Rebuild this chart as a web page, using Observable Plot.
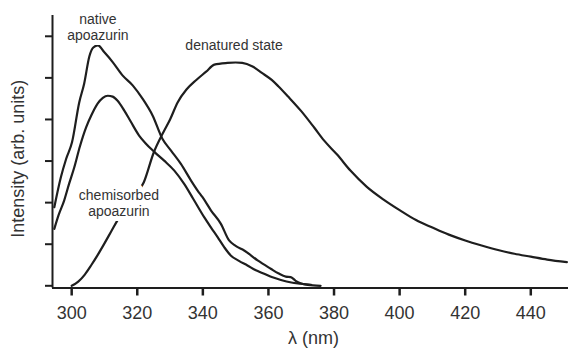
<!DOCTYPE html>
<html><head><meta charset="utf-8">
<script src="https://cdn.jsdelivr.net/npm/d3@7"></script>
<script src="https://cdn.jsdelivr.net/npm/@observablehq/plot@0.6"></script>
<style>body{margin:0;background:#fff;}</style>
</head><body><div id="chart"></div>
<script>
// Native apoazurin
const nativeWl = [294.7, 296.7, 298.3, 300.1, 302.3, 303.8, 305.4, 306.6, 308.0, 309.9, 312.5, 315.5, 318.6, 321.6, 324.7, 327.7, 330.3, 333.3, 336.4, 338.4, 339.9, 342.5, 345.5, 348.0, 350.0, 352.6, 356.7, 360.7, 363.0, 365.3, 366.8, 368.3, 369.8, 372.0, 375.9];
const nativeI = [1.89, 2.61, 3.05, 3.45, 4.41, 4.86, 5.52, 5.73, 5.78, 5.62, 5.38, 5.06, 4.82, 4.50, 4.09, 3.53, 3.25, 2.93, 2.53, 2.29, 2.13, 1.81, 1.49, 1.09, 0.96, 0.85, 0.61, 0.41, 0.30, 0.22, 0.21, 0.12, 0.06, 0.02, 0.0];
// Chemisorbed apoazurin
const chemWl = [294.7, 296.0, 297.7, 299.2, 300.8, 302.5, 304.4, 306.0, 307.9, 309.5, 311.0, 312.5, 314.0, 316.0, 318.0, 320.5, 322.5, 325.2, 328.2, 331.3, 334.3, 337.0, 340.4, 342.5, 344.5, 346.5, 348.5, 351.0, 353.6, 356.0, 358.7, 361.0, 363.8, 367.0, 369.9, 373.0];
const chemI = [1.37, 1.70, 2.05, 2.45, 2.85, 3.35, 3.81, 4.10, 4.38, 4.52, 4.57, 4.55, 4.45, 4.22, 3.95, 3.62, 3.43, 3.22, 3.01, 2.77, 2.45, 2.10, 1.65, 1.40, 1.17, 0.93, 0.73, 0.60, 0.49, 0.38, 0.29, 0.21, 0.14, 0.08, 0.05, 0.02];
// Denatured state
const denWl = [300, 302, 304, 306, 308, 310, 312, 314, 318, 322, 325, 328, 330, 332.3, 335, 338, 341, 343.5, 347.5, 350, 352, 355, 358, 361, 363, 366, 370, 374, 377, 381, 385, 390, 395, 400, 405, 410, 415, 420, 425, 430, 435, 440, 445, 451];
const denI = [0.0, 0.10, 0.27, 0.50, 0.75, 1.02, 1.30, 1.58, 2.05, 2.49, 3.20, 3.70, 4.00, 4.41, 4.72, 4.95, 5.15, 5.32, 5.36, 5.37, 5.36, 5.28, 5.12, 4.95, 4.80, 4.55, 4.20, 3.80, 3.49, 3.15, 2.77, 2.38, 2.08, 1.82, 1.58, 1.40, 1.23, 1.09, 0.97, 0.86, 0.77, 0.70, 0.63, 0.57];

const xTicks = [300, 320, 340, 360, 380, 400, 420, 440];
const yTicks = [0, 1, 2, 3, 4, 5, 6];
const xDomain = [294.15, 451.5];
const yDomain = [-0.053, 6.5];
const xLabel = "λ (nm)";
const yLabel = "Intensity (arb. units)";

const labelText = ["native\napoazurin", "denatured state", "chemisorbed\napoazurin"];
const labelWl = [308.0, 349.5, 314.4];
const labelI = [5.90, 5.67, 1.67];

const series = [
  {name: "native", wl: nativeWl, I: nativeI},
  {name: "chemisorbed", wl: chemWl, I: chemI},
  {name: "denatured", wl: denWl, I: denI}
];
const rows = series.flatMap(s => s.wl.map((w, i) => ({series: s.name, wl: w, I: s.I[i]})));
const labels = labelText.map((t, i) => ({text: t, wl: labelWl[i], I: labelI[i]}));

const ink = "#1e1e1e";
const chart = Plot.plot({
  width: 568, height: 348,
  marginLeft: 52, marginRight: 0, marginTop: 15, marginBottom: 60.5,
  style: {fontFamily: "'Liberation Sans', Arial, Helvetica, sans-serif", color: "#333", background: "#fff"},
  x: {domain: xDomain},
  y: {domain: yDomain},
  marks: [
    Plot.lineY(rows, {x: "wl", y: "I", z: "series", stroke: ink, strokeWidth: 2.2, curve: "monotone-x"}),
    Plot.text(labels, {x: "wl", y: "I", text: "text", fontSize: 14, lineAnchor: "bottom", lineHeight: 1.18, fill: "#333", stroke: "white", strokeWidth: 10}),
    Plot.ruleX([xDomain[0]], {stroke: ink, strokeWidth: 2}),
    Plot.ruleY([yDomain[0]], {stroke: ink, strokeWidth: 2}),
    Plot.axisX({ticks: xTicks, tickSize: 8, tickPadding: 10, fontSize: 18, strokeWidth: 2.5, stroke: ink, fill: "#333", label: null}),
    Plot.axisY({ticks: yTicks, tickSize: 7, tickFormat: () => "", strokeWidth: 2, stroke: ink, label: null}),
    Plot.text([xLabel], {frameAnchor: "bottom", lineAnchor: "bottom", textAnchor: "middle", dy: 55.5, dx: 3, fontSize: 18, fill: "#333"}),
    Plot.text([yLabel], {frameAnchor: "left", textAnchor: "middle", rotate: -90, dx: -34, dy: 7, fontSize: 18, fill: "#333"})
  ]
});
document.getElementById("chart").appendChild(chart);
</script>
</body></html>
